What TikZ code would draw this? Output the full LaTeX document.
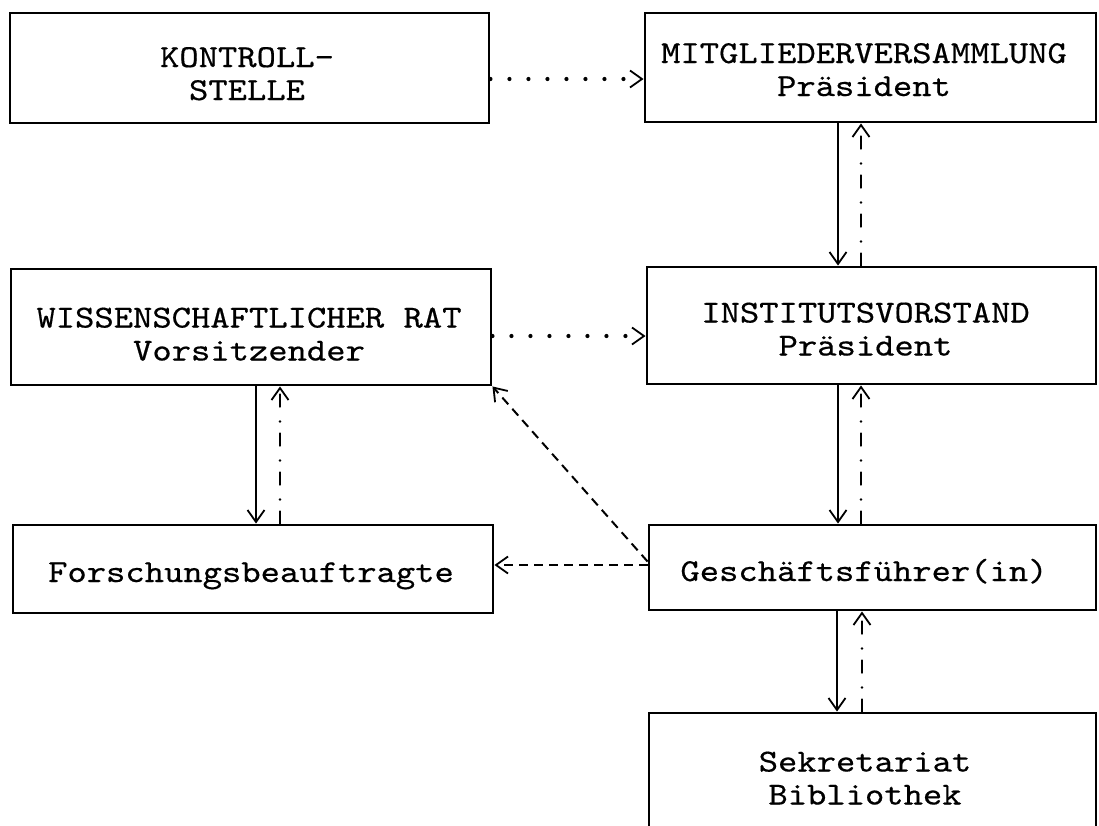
\documentclass[tikz,border=0pt]{standalone}
\usepackage{graphicx}
\usepackage{fontspec}
\setmonofont{lmmono10-regular.otf}[FakeBold=0.45]
\usetikzlibrary{arrows.meta,calc}
\newcommand{\boxtext}[1]{\scalebox{1.15}[1]{\begin{tabular}[t]{@{}c@{}}#1\end{tabular}}}
\begin{document}
\begin{tikzpicture}[x=1pt,y=-1pt,
  box/.style={draw,line width=2.9pt,inner sep=0pt,outer sep=1.45pt},
  txt/.style={font=\ttfamily\fontsize{32pt}{33pt}\selectfont,anchor=base,inner sep=0pt},
  tip/.style={-{Straight Barb[length=12pt,width=17pt,line width=1.8pt]}},
  solidc/.style={tip,line width=1.6pt},
  dotc/.style={tip,line width=4.2pt,line cap=round,dash pattern=on 0pt off 19pt},
  dashdotc/.style={tip,line width=2.8pt,line cap=round,dash pattern=on 12pt off 12pt on 0pt off 15pt},
  dashc/.style={tip,line width=2pt,dash pattern=on 9pt off 6pt}]
\fill[white] (0,0) rectangle (1099,825);
\useasboundingbox (0,0) rectangle (1099,825);
\clip (0,0) rectangle (1099,825);
% boxes
\node[box,minimum width=479pt,minimum height=110pt] (ks) at (249.5,68) {};
\node[box,minimum width=451pt,minimum height=109pt] (mv) at (870.5,67.5) {};
\node[box,minimum width=480pt,minimum height=116pt] (wr) at (251,327) {};
\node[box,minimum width=449pt,minimum height=117pt] (iv) at (871.5,325.5) {};
\node[box,minimum width=480pt,minimum height=88pt] (fb) at (253,569) {};
\node[box,minimum width=447pt,minimum height=85pt] (gf) at (872.5,567.5) {};
\node[box,minimum width=447pt,minimum height=137pt] (sb) at (872.5,781.5) {};
% texts
\node[txt] (kst) at (247,67) {\boxtext{KONTROLL-\\STELLE}};
\node[txt] (mvt) at (864,63) {\boxtext{MITGLIEDERVERSAMMLUNG\\Präsident}};
\node[txt] (wrt) at (249,327.5) {\boxtext{WISSENSCHAFTLICHER RAT\\Vorsitzender}};
\node[txt] (ivt) at (865.5,322.5) {\boxtext{INSTITUTSVORSTAND\\Präsident}};
\node[txt] (fbt) at (251,582) {\boxtext{Forschungsbeauftragte}};
\node[txt] (gft) at (864,581) {\boxtext{Geschäftsführer(in)}};
\node[txt] (sbt) at (865,771.5) {\boxtext{Sekretariat\\Bibliothek}};
% connectors
\draw[dotc] ($(ks.east)+(0,11)$) -- ($(mv.west)+(0,11.5)$);
\draw[solidc] ($(mv.south)+(-32.5,0)$) -- ($(iv.north)+(-33.5,0)$);
\draw[dashdotc] ($(iv.north)+(-10.5,0)$) -- ($(mv.south)+(-9.5,0)$);
\draw[dotc] ($(wr.east)+(0,9)$) -- ($(iv.west)+(0,10.5)$);
\draw[solidc] ($(wr.south)+(5,0)$) -- ($(fb.north)+(3,0)$);
\draw[dashdotc] ($(fb.north)+(27,0)$) -- ($(wr.south)+(29,0)$);
\draw[solidc] ($(iv.south)+(-33.5,0)$) -- ($(gf.north)+(-34.5,0)$);
\draw[dashdotc] ($(gf.north)+(-11.5,0)$) -- ($(iv.south)+(-10.5,0)$);
\draw[dashc] ($(gf.west)+(0,-2.5)$) -- ($(fb.east)+(0,-4)$);
\draw[dashc] ($(gf.west)+(0,-6)$) -- (wr.south east);
\draw[solidc] ($(gf.south)+(-35.5,0)$) -- ($(sb.north)+(-35.5,0)$);
\draw[dashdotc] ($(sb.north)+(-10.5,0)$) -- ($(gf.south)+(-10.5,0)$);
\end{tikzpicture}
\end{document}
